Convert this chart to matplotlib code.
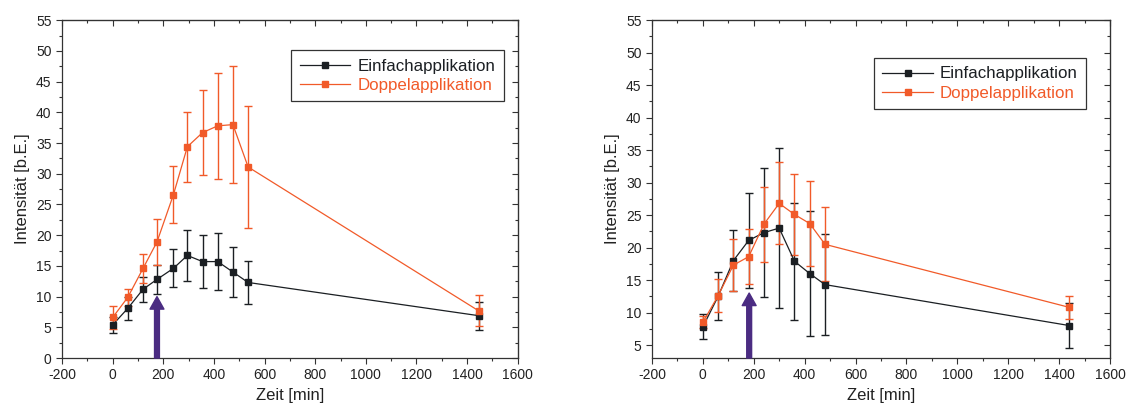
import matplotlib
matplotlib.use('Agg')
import matplotlib.pyplot as plt
from matplotlib.ticker import MultipleLocator
from matplotlib.lines import Line2D

plt.rcParams['font.family'] = ['Liberation Sans', 'DejaVu Sans']
plt.rcParams['axes.unicode_minus'] = False

# Data left panel
zeit_l = [0, 60, 120, 175, 240, 295, 355, 415, 475, 535, 1445]
einfach_l = [5.4, 8.1, 11.2, 12.8, 14.6, 16.7, 15.7, 15.7, 14.0, 12.3, 6.9]
einfach_l_err = [1.3, 1.9, 2.0, 2.4, 3.1, 4.2, 4.3, 4.6, 4.0, 3.5, 2.3]
doppel_l = [6.6, 9.9, 14.6, 18.9, 26.6, 34.4, 36.7, 37.8, 38.0, 31.1, 7.7]
doppel_l_err = [1.8, 1.4, 2.4, 3.7, 4.6, 5.7, 6.9, 8.6, 9.5, 10.0, 2.5]

# Data right panel
zeit_r = [0, 60, 120, 180, 240, 300, 360, 420, 480, 1440]
einfach_r = [7.8, 12.5, 18.0, 21.1, 22.3, 23.0, 17.9, 16.0, 14.3, 8.0]
einfach_r_err = [1.9, 3.7, 4.7, 7.3, 9.9, 12.3, 9.0, 9.6, 7.8, 3.5]
doppel_r = [8.5, 12.6, 17.3, 18.6, 23.6, 26.8, 25.1, 23.7, 20.5, 10.8]
doppel_r_err = [0.9, 2.5, 4.0, 4.2, 5.8, 6.3, 6.3, 6.5, 5.7, 1.8]

# arrow (time of second application) and tip height
arrow_x = [175, 182]
arrow_tip = [10.0, 13.0]
y_bottom = [0, 3]

labels = ['Einfachapplikation', 'Doppelapplikation']

BLACK = '#1b1f23'
ORANGE = '#f15a29'
PURPLE = '#4b2c82'

fig = plt.figure(figsize=(11.28, 4.12), dpi=100)
ax1 = fig.add_axes([0.055, 0.131, 0.404, 0.820])
ax2 = fig.add_axes([0.578, 0.131, 0.406, 0.820])

panels = [
    (ax1, zeit_l, einfach_l, einfach_l_err, doppel_l, doppel_l_err, (0.969, 0.911)),
    (ax2, zeit_r, einfach_r, einfach_r_err, doppel_r, doppel_r_err, (0.948, 0.888)),
]

for i, (ax, x, e, e_err, d, d_err, leg_pos) in enumerate(panels):
    ax.errorbar(x, e, yerr=e_err, color=BLACK, marker='s', markersize=5,
                linewidth=0.9, elinewidth=1.0, capsize=3, capthick=1.0, zorder=3)
    ax.errorbar(x, d, yerr=d_err, color=ORANGE, marker='s', markersize=5,
                linewidth=0.9, elinewidth=1.0, capsize=3, capthick=1.0, zorder=3)

    ax.annotate('', xy=(arrow_x[i], arrow_tip[i]), xytext=(arrow_x[i], y_bottom[i]),
                arrowprops=dict(facecolor=PURPLE, edgecolor=PURPLE, width=3.5,
                                headwidth=10, headlength=9, shrink=0),
                zorder=4)

    ax.set_xlim(-200, 1600)
    ax.xaxis.set_major_locator(MultipleLocator(200))
    ax.xaxis.set_minor_locator(MultipleLocator(100))
    ax.yaxis.set_major_locator(MultipleLocator(5))
    ax.yaxis.set_minor_locator(MultipleLocator(2.5))
    ax.set_ylim(y_bottom[i], 55)
    ax.tick_params(which='major', direction='out', length=4, width=0.8,
                   labelsize=10, colors='#333333', labelcolor='#222222')
    ax.tick_params(which='minor', direction='out', length=2.5, width=0.8, colors='#333333')
    for sp in ax.spines.values():
        sp.set_linewidth(0.9)
        sp.set_color('#333333')

    # mirrored inward ticks on top and right
    top = ax.secondary_xaxis('top')
    top.xaxis.set_major_locator(MultipleLocator(200))
    top.xaxis.set_minor_locator(MultipleLocator(100))
    top.tick_params(which='major', direction='in', length=4, width=0.8, labeltop=False, colors='#333333')
    top.tick_params(which='minor', direction='in', length=2.5, width=0.8, colors='#333333')
    right = ax.secondary_yaxis('right')
    right.yaxis.set_major_locator(MultipleLocator(5))
    right.yaxis.set_minor_locator(MultipleLocator(2.5))
    right.tick_params(which='major', direction='in', length=4, width=0.8, labelright=False, colors='#333333')
    right.tick_params(which='minor', direction='in', length=2.5, width=0.8, colors='#333333')

    ax.set_xlabel('Zeit [min]', fontsize=12, color='#222222', labelpad=4)
    ax.set_ylabel('Intensität [b.E.]', fontsize=12, color='#222222', labelpad=4)

    handles = [Line2D([], [], color=BLACK, marker='s', markersize=5, linewidth=0.9),
               Line2D([], [], color=ORANGE, marker='s', markersize=5, linewidth=0.9)]
    leg = ax.legend(handles, labels, loc='upper right', bbox_to_anchor=leg_pos, fancybox=False,
                    framealpha=1, edgecolor='#333333', fontsize=12.2,
                    handlelength=3.0, handletextpad=0.4, borderpad=0.5,
                    labelspacing=0.25, borderaxespad=0)
    leg.get_frame().set_linewidth(0.9)
    for txt, col in zip(leg.get_texts(), [BLACK, ORANGE]):
        txt.set_color(col)

fig.savefig('out.png', dpi=100)
